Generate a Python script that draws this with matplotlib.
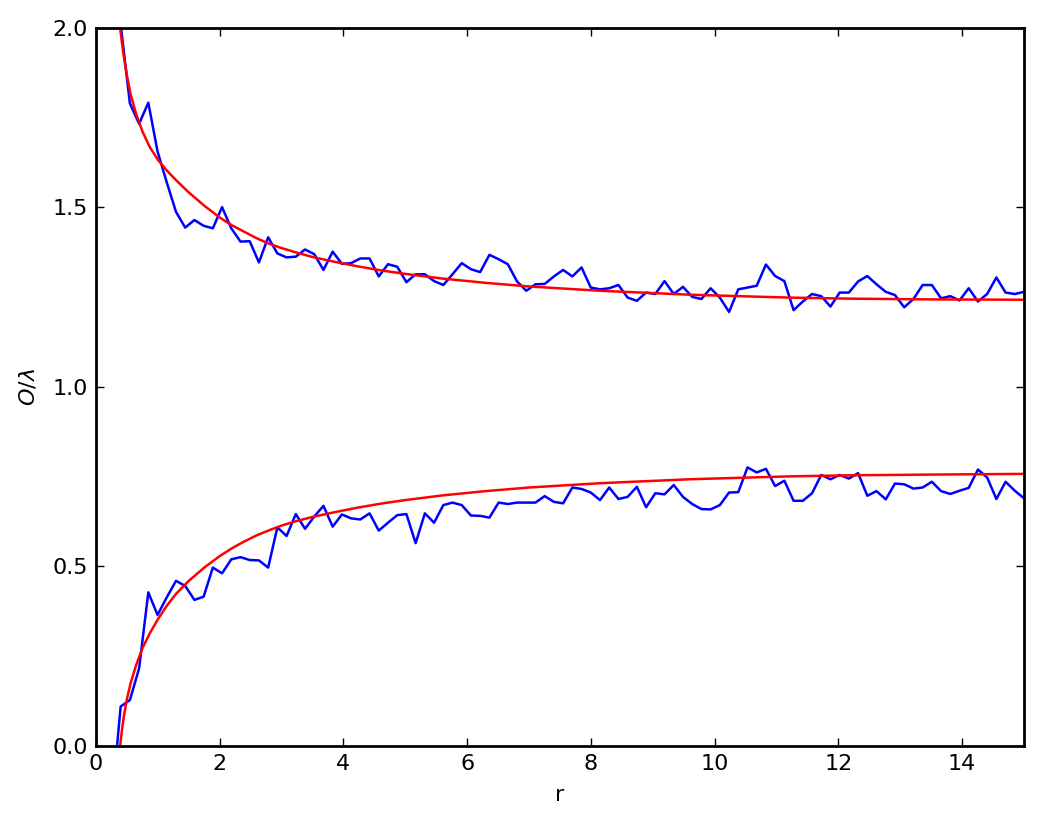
import numpy as np
import matplotlib
matplotlib.use("Agg")
import matplotlib.pyplot as plt

# sample radii for the measured curves (evenly spaced, 100 points)
r = np.linspace(0.25, 15, 100)

upper_meas = [
    2.60, 2.01, 1.790, 1.733, 1.792, 1.656, 1.570, 1.488, 1.444, 1.465,
    1.449, 1.442, 1.501, 1.442, 1.405, 1.406, 1.347, 1.417, 1.372, 1.361,
    1.363, 1.383, 1.370, 1.326, 1.377, 1.343, 1.345, 1.358, 1.358, 1.308,
    1.342, 1.335, 1.292, 1.314, 1.314, 1.295, 1.284, 1.314, 1.345, 1.328,
    1.320, 1.368, 1.356, 1.342, 1.294, 1.268, 1.286, 1.287, 1.308, 1.326,
    1.308, 1.333, 1.277, 1.272, 1.275, 1.284, 1.249, 1.240, 1.263, 1.259,
    1.295, 1.259, 1.279, 1.251, 1.245, 1.275, 1.249, 1.209, 1.272, 1.277,
    1.282, 1.341, 1.309, 1.295, 1.214, 1.238, 1.259, 1.253, 1.224, 1.263,
    1.263, 1.294, 1.309, 1.286, 1.265, 1.256, 1.222, 1.245, 1.284, 1.284,
    1.247, 1.253, 1.241, 1.275, 1.238, 1.259, 1.305, 1.263, 1.259, 1.265,
]

lower_meas = [
    -0.17, 0.110, 0.128, 0.216, 0.428, 0.365, 0.414, 0.460, 0.446, 0.407,
    0.416, 0.497, 0.481, 0.520, 0.526, 0.518, 0.517, 0.497, 0.609, 0.585,
    0.646, 0.605, 0.639, 0.669, 0.611, 0.645, 0.634, 0.631, 0.648, 0.600,
    0.622, 0.643, 0.646, 0.565, 0.648, 0.622, 0.671, 0.678, 0.671, 0.642,
    0.641, 0.636, 0.678, 0.674, 0.678, 0.678, 0.678, 0.696, 0.680, 0.676,
    0.720, 0.716, 0.706, 0.685, 0.720, 0.688, 0.694, 0.722, 0.665, 0.704,
    0.701, 0.727, 0.694, 0.674, 0.660, 0.659, 0.671, 0.706, 0.707, 0.776,
    0.762, 0.772, 0.724, 0.739, 0.683, 0.683, 0.704, 0.755, 0.743, 0.755,
    0.745, 0.760, 0.697, 0.710, 0.687, 0.731, 0.729, 0.717, 0.720, 0.736,
    0.710, 0.702, 0.711, 0.719, 0.770, 0.748, 0.688, 0.736, 0.711, 0.690,
]

# theory curves
r_theory = [0.39, 0.42, 0.45, 0.50, 0.56, 0.65, 0.75, 0.87, 1.0, 1.15,
            1.3, 1.5, 1.75, 2.0, 2.2, 2.4, 2.6, 2.8, 3.0, 3.25,
            3.5, 3.85, 4.2, 4.6, 5.0, 5.6, 6.3, 7.0, 8.15, 9.6,
            11.2, 12.2, 13.5, 15.0]
upper_theory = [2.0, 1.958, 1.92, 1.868, 1.815, 1.76, 1.712, 1.668, 1.633, 1.602,
                1.575, 1.542, 1.505, 1.472, 1.450, 1.432, 1.414, 1.399, 1.387, 1.374,
                1.362, 1.349, 1.337, 1.325, 1.315, 1.302, 1.290, 1.280, 1.268, 1.257,
                1.249, 1.246, 1.244, 1.243]
lower_theory = [0.0, 0.045, 0.082, 0.131, 0.175, 0.226, 0.272, 0.314, 0.353, 0.392,
                0.425, 0.460, 0.497, 0.529, 0.551, 0.570, 0.587, 0.601, 0.614, 0.627,
                0.638, 0.651, 0.663, 0.675, 0.685, 0.698, 0.710, 0.720, 0.732, 0.743,
                0.751, 0.754, 0.756, 0.758]

fig = plt.figure(figsize=(10.41, 8.30), dpi=100)
ax = fig.add_axes([0.0922, 0.1012, 0.8915, 0.8651])

ax.plot(r, upper_meas, color="#0000ff", lw=1.8)
ax.plot(r, lower_meas, color="#0000ff", lw=1.8)
ax.plot(r_theory, upper_theory, color="#ff0000", lw=1.8)
ax.plot(r_theory, lower_theory, color="#ff0000", lw=1.8)

ax.set_xlim(0, 15)
ax.set_ylim(0, 2)
ax.set_xticks(range(0, 15, 2))
ax.set_yticks([0.0, 0.5, 1.0, 1.5, 2.0])
ax.set_yticklabels(["0.0", "0.5", "1.0", "1.5", "2.0"])
ax.tick_params(direction="in", which="both", top=True, right=True,
               length=6, width=1, pad=6, labelsize=16)
for s in ax.spines.values():
    s.set_linewidth(2.0)

ax.set_xlabel("r", fontsize=16, labelpad=8)
ax.set_ylabel(r"$O/\lambda$", fontsize=16, labelpad=10)

fig.savefig("out.png", dpi=100)
